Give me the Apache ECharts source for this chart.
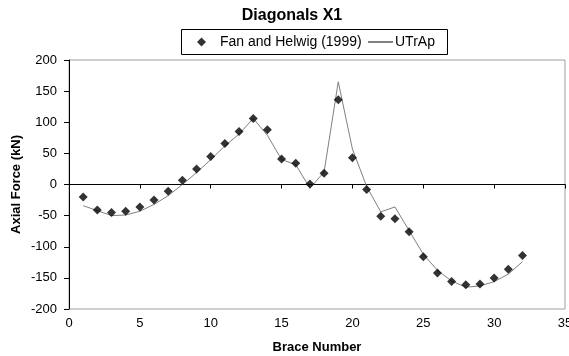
<!DOCTYPE html>
<html>
<head>
<meta charset="utf-8">
<script src="https://cdn.jsdelivr.net/npm/echarts@6/dist/echarts.min.js"></script>
<style>html,body{margin:0;padding:0;background:#fff}#c{width:569px;height:356px}</style>
</head>
<body>
<div id="c"></div>
<script>
var braces = [1,2,3,4,5,6,7,8,9,10,11,12,13,14,15,16,17,18,19,20,21,22,23,24,25,26,27,28,29,30,31,32];
var fanHelwig = [-20,-41,-45,-43,-36,-25,-11,7,25,45,66,85,106,88,41,34,1,18,136,43,-8,-51,-55,-76,-116,-142,-156,-161,-160,-150,-136,-114];
var utrap = [-34,-42,-50,-49,-43,-32,-18,0,19,40,62,81,106,79,40,32,-6,20,165,57,-3,-44,-36,-74,-112,-138,-155,-165,-163,-156,-144,-124];
var xTicks = {min:0, max:35, interval:5};
var yTicks = {min:-200, max:200, interval:50};

var font = 'Liberation Sans, Arial, sans-serif';
var chart = echarts.init(document.getElementById('c'), null, {renderer:'canvas'});
function pairs(v){ return braces.map(function(b,i){ return [b, v[i]]; }); }
chart.setOption({
  animation:false,
  backgroundColor:'#fff',
  title:{text:'Diagonals X1', left:292, top:8, textAlign:'center', padding:0,
    textStyle:{fontFamily:font, fontSize:16, fontWeight:'bold', color:'#000'}},
  graphic:[{type:'rect', shape:{x:181.5, y:29.5, width:266, height:25},
    style:{fill:'#fff', stroke:'#000', lineWidth:1}, z:-1}],
  legend:[
    {data:[{name:'Fan and Helwig (1999)', icon:'diamond'}], left:197, top:35, padding:0, itemWidth:9, itemHeight:9,
      textStyle:{fontFamily:font, fontSize:14, color:'#000', padding:[0,0,0,9]}},
    {data:['UTrAp'], left:367, top:35, padding:0, itemWidth:25, itemHeight:2,
      textStyle:{fontFamily:font, fontSize:14, color:'#000', padding:[0,0,0,-3]}}
  ],
  grid:{left:69, top:60, width:496, height:249, show:true, borderColor:'#a0a0a0', borderWidth:1,
    containLabel:false, outerBoundsMode:'none'},
  xAxis:[
    {type:'value', min:xTicks.min, max:xTicks.max, interval:xTicks.interval, position:'bottom',
      axisLine:{show:false, onZero:false}, axisTick:{show:false}, splitLine:{show:false},
      axisLabel:{fontFamily:font, fontSize:13, color:'#000', margin:8},
      name:'Brace Number', nameLocation:'middle', nameGap:32, nameMoveOverlap:false,
      nameTextStyle:{fontFamily:font, fontSize:13, fontWeight:'bold', color:'#000'}},
    {type:'value', min:xTicks.min, max:xTicks.max, interval:xTicks.interval, position:'bottom',
      axisLine:{show:true, onZero:true, onZeroAxisIndex:0, lineStyle:{color:'#000', width:1}},
      axisTick:{show:true, inside:false, length:4, lineStyle:{color:'#000'}},
      axisLabel:{show:false}, splitLine:{show:false}}
  ],
  yAxis:{type:'value', min:yTicks.min, max:yTicks.max, interval:yTicks.interval,
    axisLine:{show:true, onZero:false, lineStyle:{color:'#000', width:1}},
    axisTick:{show:true, inside:false, length:5, lineStyle:{color:'#000'}},
    splitLine:{show:false},
    axisLabel:{fontFamily:font, fontSize:13, color:'#000', margin:12},
    name:'Axial Force (kN)', nameLocation:'middle', nameGap:46, nameRotate:90, nameMoveOverlap:false,
    nameTextStyle:{fontFamily:font, fontSize:13, fontWeight:'bold', color:'#000'}},
  series:[
    {name:'UTrAp', type:'line', xAxisIndex:0, data:pairs(utrap), symbol:'none',
      lineStyle:{color:'#808080', width:1}, itemStyle:{color:'#808080'}, z:2},
    {name:'Fan and Helwig (1999)', type:'scatter', xAxisIndex:0, data:pairs(fanHelwig), symbol:'diamond',
      symbolSize:9, itemStyle:{color:'#000'}, z:3}
  ]
});
</script>
</body>
</html>
